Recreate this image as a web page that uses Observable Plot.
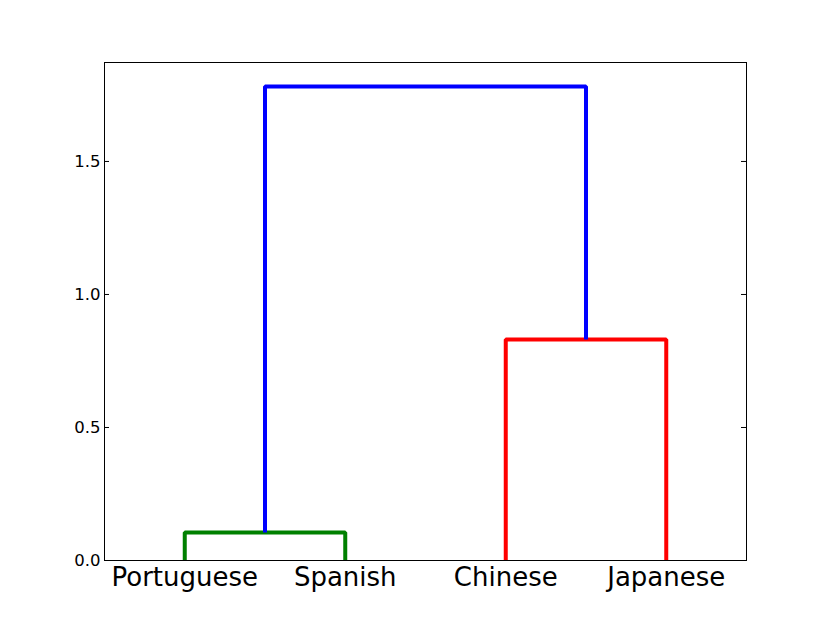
<!DOCTYPE html>
<html>
<head>
<meta charset="utf-8">
<script src="https://cdn.jsdelivr.net/npm/d3@7"></script>
<script src="https://cdn.jsdelivr.net/npm/@observablehq/plot@0.6"></script>
<style>
  html, body { margin: 0; padding: 0; background: #fff; }
  #chart svg { font-family: "DejaVu Sans", sans-serif; display: block; }
</style>
</head>
<body>
<div id="chart"></div>
<script>
// Leaf labels (dendrogram order) and their positions (scipy convention 5, 15, 25, ...)
const leaves = ["Portuguese", "Spanish", "Chinese", "Japanese"];
const leafPositions = [5, 15, 25, 35];

// Dendrogram links (scipy icoord / dcoord) with colours
const icoord = [
  [5, 5, 15, 15],
  [25, 25, 35, 35],
  [10, 10, 30, 30]
];
const dcoord = [
  [0, 0.105, 0.105, 0],
  [0, 0.831, 0.831, 0],
  [0.105, 1.782, 1.782, 0.831]
];
const linkColors = ["#008000", "#ff0000", "#0000ff"];

const yTicks = [0, 0.5, 1.0, 1.5];
const yMax = 1.872;

const points = [];
icoord.forEach((xs, i) => {
  xs.forEach((x, j) => points.push({x, y: dcoord[i][j], link: i, color: linkColors[i]}));
});

const W = 830, H = 623;
const mL = 104, mR = 84, mT = 62, mB = 63;
const frameW = W - mL - mR;

const chart = Plot.plot({
  width: W,
  height: H,
  marginLeft: mL,
  marginRight: mR,
  marginTop: mT,
  marginBottom: mB,
  style: {fontFamily: "DejaVu Sans, sans-serif", background: "#fff"},
  x: {domain: [0, 40], axis: null},
  y: {domain: [0, yMax], axis: null},
  marks: [
    Plot.line(points, {
      x: "x", y: "y", z: "link", stroke: "color",
      strokeWidth: 4, strokeLinejoin: "miter", strokeLinecap: "butt", clip: true
    }),
    // inward ticks, left and right
    Plot.tickY(yTicks, {y: d => d, stroke: "#000", strokeWidth: 1, insetRight: frameW - 5}),
    Plot.tickY(yTicks, {y: d => d, stroke: "#000", strokeWidth: 1, insetLeft: frameW - 5}),
    Plot.axisY({
      ticks: yTicks, tickSize: 0, tickPadding: 4, tickFormat: d3.format(".1f"),
      fontSize: 16.5, label: null, anchor: "left", fill: "#000"
    }),
    Plot.axisX({
      ticks: leafPositions, tickSize: 0, tickPadding: 7,
      tickFormat: (d) => leaves[leafPositions.indexOf(d)],
      fontSize: 26, label: null, anchor: "bottom", fill: "#000"
    }),
    Plot.frame({stroke: "#000", strokeWidth: 1})
  ]
});
document.getElementById("chart").appendChild(chart);
</script>
</body>
</html>
